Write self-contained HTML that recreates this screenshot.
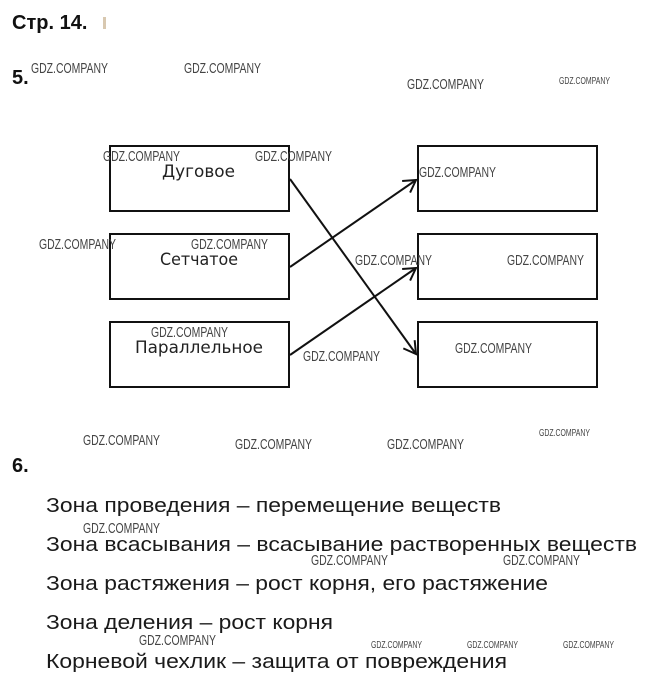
<!DOCTYPE html>
<html><head><meta charset="utf-8"><style>
html,body{margin:0;padding:0;background:#fff;}
svg{display:block;}
.w{font-family:"Liberation Sans",sans-serif;font-size:15px;fill:#444;}
.ws{font-family:"Liberation Sans",sans-serif;font-size:10px;fill:#444;}
.b{font-family:"DejaVu Sans","Liberation Sans",sans-serif;font-size:17px;fill:#222;}
.t{font-family:"Liberation Sans",sans-serif;font-size:20px;fill:#1a1a1a;}
.h{font-family:"Liberation Sans",sans-serif;font-weight:bold;font-size:20px;fill:#111;}
</style></head><body>
<svg width="648" height="687" viewBox="0 0 648 687" xmlns="http://www.w3.org/2000/svg">
<defs><marker id="a" markerWidth="16" markerHeight="16" refX="14" refY="8" orient="auto" markerUnits="userSpaceOnUse"><path d="M2,1 L14,8 L2,15" fill="none" stroke="#111" stroke-width="2"/></marker></defs>
<text class="h" x="12" y="29">Стр. 14.</text>
<rect x="103" y="17" width="3" height="12" fill="#d8c8b0"/>
<text class="h" x="12" y="84">5.</text>
<text class="h" x="12" y="472">6.</text>
<g fill="none" stroke="#111" stroke-width="2">
<rect x="110" y="146" width="179" height="65"/>
<rect x="110" y="234" width="179" height="65"/>
<rect x="110" y="322" width="179" height="65"/>
<rect x="418" y="146" width="179" height="65"/>
<rect x="418" y="234" width="179" height="65"/>
<rect x="418" y="322" width="179" height="65"/>
<line x1="290" y1="179" x2="416" y2="354" marker-end="url(#a)"/>
<line x1="290" y1="267" x2="416" y2="180" marker-end="url(#a)"/>
<line x1="290" y1="355" x2="416" y2="268" marker-end="url(#a)"/>
</g>
<g class="b">
<text x="162" y="177" textLength="73" lengthAdjust="spacingAndGlyphs">Дуговое</text>
<text x="160" y="265" textLength="78" lengthAdjust="spacingAndGlyphs">Сетчатое</text>
<text x="135" y="353" textLength="128" lengthAdjust="spacingAndGlyphs">Параллельное</text>
</g>
<g class="t">
<text x="46" y="512" textLength="455" lengthAdjust="spacingAndGlyphs">Зона проведения – перемещение веществ</text>
<text x="46" y="551" textLength="591" lengthAdjust="spacingAndGlyphs">Зона всасывания – всасывание растворенных веществ</text>
<text x="46" y="590" textLength="502" lengthAdjust="spacingAndGlyphs">Зона растяжения – рост корня, его растяжение</text>
<text x="46" y="629" textLength="287" lengthAdjust="spacingAndGlyphs">Зона деления – рост корня</text>
<text x="46" y="668" textLength="461" lengthAdjust="spacingAndGlyphs">Корневой чехлик – защита от повреждения</text>
</g>
<g class="w">
<text x="31" y="73" textLength="77" lengthAdjust="spacingAndGlyphs">GDZ.COMPANY</text>
<text x="184" y="73" textLength="77" lengthAdjust="spacingAndGlyphs">GDZ.COMPANY</text>
<text x="407" y="89" textLength="77" lengthAdjust="spacingAndGlyphs">GDZ.COMPANY</text>
<text x="103" y="161" textLength="77" lengthAdjust="spacingAndGlyphs">GDZ.COMPANY</text>
<text x="255" y="161" textLength="77" lengthAdjust="spacingAndGlyphs">GDZ.COMPANY</text>
<text x="419" y="177" textLength="77" lengthAdjust="spacingAndGlyphs">GDZ.COMPANY</text>
<text x="39" y="249" textLength="77" lengthAdjust="spacingAndGlyphs">GDZ.COMPANY</text>
<text x="191" y="249" textLength="77" lengthAdjust="spacingAndGlyphs">GDZ.COMPANY</text>
<text x="355" y="265" textLength="77" lengthAdjust="spacingAndGlyphs">GDZ.COMPANY</text>
<text x="507" y="265" textLength="77" lengthAdjust="spacingAndGlyphs">GDZ.COMPANY</text>
<text x="151" y="337" textLength="77" lengthAdjust="spacingAndGlyphs">GDZ.COMPANY</text>
<text x="455" y="353" textLength="77" lengthAdjust="spacingAndGlyphs">GDZ.COMPANY</text>
<text x="303" y="361" textLength="77" lengthAdjust="spacingAndGlyphs">GDZ.COMPANY</text>
<text x="83" y="445" textLength="77" lengthAdjust="spacingAndGlyphs">GDZ.COMPANY</text>
<text x="235" y="449" textLength="77" lengthAdjust="spacingAndGlyphs">GDZ.COMPANY</text>
<text x="387" y="449" textLength="77" lengthAdjust="spacingAndGlyphs">GDZ.COMPANY</text>
<text x="83" y="533" textLength="77" lengthAdjust="spacingAndGlyphs">GDZ.COMPANY</text>
<text x="311" y="565" textLength="77" lengthAdjust="spacingAndGlyphs">GDZ.COMPANY</text>
<text x="503" y="565" textLength="77" lengthAdjust="spacingAndGlyphs">GDZ.COMPANY</text>
<text x="139" y="645" textLength="77" lengthAdjust="spacingAndGlyphs">GDZ.COMPANY</text>
</g>
<g class="ws">
<text x="559" y="84" textLength="51" lengthAdjust="spacingAndGlyphs">GDZ.COMPANY</text>
<text x="539" y="436" textLength="51" lengthAdjust="spacingAndGlyphs">GDZ.COMPANY</text>
<text x="371" y="648" textLength="51" lengthAdjust="spacingAndGlyphs">GDZ.COMPANY</text>
<text x="467" y="648" textLength="51" lengthAdjust="spacingAndGlyphs">GDZ.COMPANY</text>
<text x="563" y="648" textLength="51" lengthAdjust="spacingAndGlyphs">GDZ.COMPANY</text>
</g>
</svg>
</body></html>
